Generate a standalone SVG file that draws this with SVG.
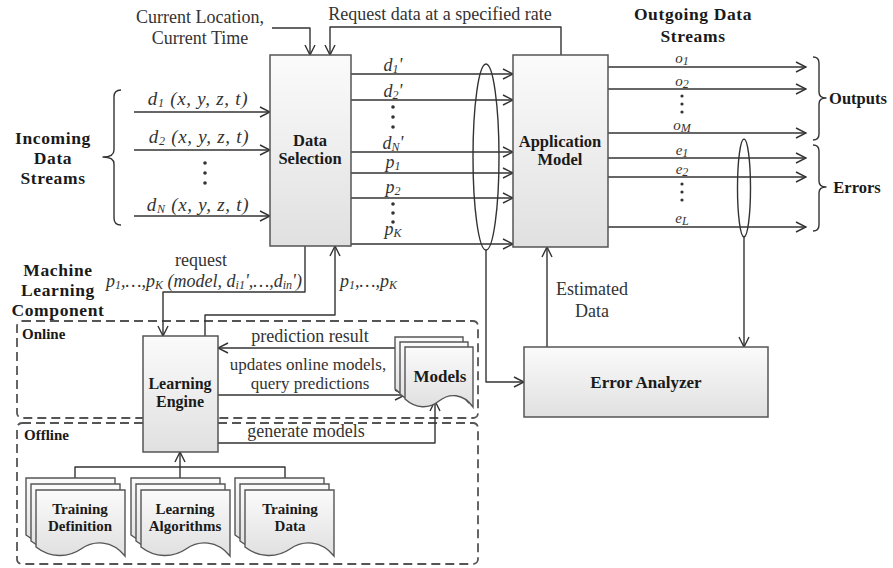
<svg xmlns="http://www.w3.org/2000/svg" width="893" height="568" viewBox="0 0 893 568">
<defs>
  <linearGradient id="boxFill" x1="0" y1="0" x2="0" y2="1">
    <stop offset="0" stop-color="#fbfbfb"/>
    <stop offset="1" stop-color="#e0e0e0"/>
  </linearGradient>
  <marker id="arr" viewBox="0 0 12 12" refX="11" refY="6" markerWidth="12" markerHeight="12" markerUnits="userSpaceOnUse" orient="auto">
    <path d="M1,1 L11,6 L1,11" fill="none" stroke="#333" stroke-width="1.4"/>
  </marker>
  <!-- document sheet with wavy bottom edge -->
  <path id="docL" d="M0,0 H89 V66 C76,50 58,50 45,59 C32,68 14,68 0,57 Z"/>
  <path id="docS" d="M0,0 H68 V60 C58,46 44,46 34,54 C24,62 11,62 0,52 Z"/>
</defs>
<style>
  .t{font-family:"Liberation Serif","Times New Roman",serif;font-size:18px;fill:#333}
  .b{font-weight:bold;fill:#1a1a1a}
  .h{font-size:17.5px;letter-spacing:0.6px}
  .i{font-style:italic}
  .s{font-size:12px}
  .m{text-anchor:middle}
  .box{fill:url(#boxFill);stroke:#555;stroke-width:1.5}
  .doc{fill:url(#boxFill);stroke:#555;stroke-width:1.4}
  .ln{fill:none;stroke:#333;stroke-width:1.4;stroke-linejoin:round}
  .ar{marker-end:url(#arr)}
  .dash{fill:none;stroke:#555;stroke-width:1.8;stroke-dasharray:9 5}
  .dot{fill:#333}
</style>

<rect width="893" height="568" fill="#ffffff"/>

<!-- containers for the machine learning component -->
<g id="online-area">
  <rect class="dash" x="17" y="321" width="461" height="97" rx="5"/>
  <text class="t b" x="22" y="339" style="font-size:15px">Online</text>
</g>
<g id="offline-area">
  <rect class="dash" x="17" y="423" width="461" height="141" rx="5"/>
  <text class="t b" x="24" y="440" style="font-size:15px">Offline</text>
</g>

<!-- connectors -->
<g id="connectors">
  <!-- incoming streams -->
  <line class="ln ar" x1="134" y1="112" x2="270" y2="112"/>
  <line class="ln ar" x1="134" y1="150" x2="270" y2="150"/>
  <line class="ln ar" x1="134" y1="216" x2="270" y2="216"/>
  <!-- context and rate requests into data selection -->
  <path class="ln ar" d="M272,28 H310 V55"/>
  <path class="ln ar" d="M561,55 V27 H330 V55"/>
  <!-- selected data into application model -->
  <line class="ln ar" x1="351" y1="74" x2="513" y2="74"/>
  <line class="ln ar" x1="351" y1="100" x2="513" y2="100"/>
  <line class="ln ar" x1="351" y1="152" x2="513" y2="152"/>
  <line class="ln ar" x1="351" y1="173" x2="513" y2="173"/>
  <line class="ln ar" x1="351" y1="198" x2="513" y2="198"/>
  <line class="ln ar" x1="351" y1="244" x2="513" y2="244"/>
  <ellipse class="ln" cx="486" cy="157" rx="13" ry="93"/>
  <path class="ln ar" d="M486,250 V382 H524"/>
  <!-- outgoing streams -->
  <line class="ln ar" x1="608" y1="67" x2="806" y2="67"/>
  <line class="ln ar" x1="608" y1="89" x2="806" y2="89"/>
  <line class="ln ar" x1="608" y1="133" x2="806" y2="133"/>
  <line class="ln ar" x1="608" y1="158" x2="806" y2="158"/>
  <line class="ln ar" x1="608" y1="177" x2="806" y2="177"/>
  <line class="ln ar" x1="608" y1="227" x2="806" y2="227"/>
  <ellipse class="ln" cx="744" cy="188" rx="6.5" ry="49"/>
  <line class="ln ar" x1="744" y1="237" x2="744" y2="347"/>
  <!-- estimated data back to application model -->
  <line class="ln ar" x1="547" y1="347" x2="547" y2="247"/>
  <!-- data selection and learning engine -->
  <path class="ln ar" d="M305,246 V292 H163 V336"/>
  <path class="ln ar" d="M205,336 V315 H335 V246"/>
  <!-- learning engine and models -->
  <line class="ln ar" x1="397" y1="348" x2="218" y2="348"/>
  <line class="ln ar" x1="218" y1="395" x2="405" y2="395"/>
  <path class="ln ar" d="M218,443 H435 V401"/>
  <!-- offline inputs to learning engine -->
  <path class="ln" d="M75,478 V467 H285 V478"/>
  <line class="ln ar" x1="180" y1="478" x2="180" y2="452"/>
  <!-- braces -->
  <path class="ln" d="M121,90 Q114,90 114,97 V150 Q114,157 103,157 Q114,157 114,164 V218 Q114,225 121,225"/>
  <path class="ln" d="M813,57 Q819,57 819,63 V92 Q819,98 826,98 Q819,98 819,104 V134 Q819,140 813,140"/>
  <path class="ln" d="M813,145 Q819,145 819,151 V181 Q819,187 826,187 Q819,187 819,193 V225 Q819,231 813,231"/>
</g>

<!-- nodes -->
<g id="node-data-selection">
  <rect class="box" x="270" y="55" width="81" height="191"/>
  <text class="t b m" x="310" y="146" style="font-size:16.5px">Data</text>
  <text class="t b m" x="310" y="164" style="font-size:16.5px">Selection</text>
</g>
<g id="node-application-model">
  <rect class="box" x="513" y="55" width="95" height="192"/>
  <text class="t b m" x="560" y="147" style="font-size:16.5px">Application</text>
  <text class="t b m" x="560" y="165" style="font-size:16.5px">Model</text>
</g>
<g id="node-error-analyzer">
  <rect class="box" x="524" y="347" width="244" height="70"/>
  <text class="t b m" x="646" y="388" style="font-size:17px">Error Analyzer</text>
</g>
<g id="node-learning-engine">
  <rect class="box" x="143" y="336" width="75" height="116"/>
  <text class="t b m" x="180" y="389" style="font-size:16px">Learning</text>
  <text class="t b m" x="180" y="407" style="font-size:16px">Engine</text>
</g>
<g id="node-models">
  <use href="#docS" class="doc" x="395" y="337"/>
  <use href="#docS" class="doc" x="400" y="342"/>
  <use href="#docS" class="doc" x="405" y="347"/>
  <text class="t b m" x="440" y="382" style="font-size:17px">Models</text>
</g>
<g id="node-training-definition">
  <use href="#docL" class="doc" x="26" y="478"/>
  <use href="#docL" class="doc" x="31" y="484"/>
  <use href="#docL" class="doc" x="36" y="490"/>
  <text class="t b m" x="80" y="514" style="font-size:15px">Training</text>
  <text class="t b m" x="80" y="531" style="font-size:15px">Definition</text>
</g>
<g id="node-learning-algorithms">
  <use href="#docL" class="doc" x="131" y="478"/>
  <use href="#docL" class="doc" x="136" y="484"/>
  <use href="#docL" class="doc" x="141" y="490"/>
  <text class="t b m" x="185" y="514" style="font-size:15px">Learning</text>
  <text class="t b m" x="185" y="531" style="font-size:15px">Algorithms</text>
</g>
<g id="node-training-data">
  <use href="#docL" class="doc" x="235" y="478"/>
  <use href="#docL" class="doc" x="240" y="484"/>
  <use href="#docL" class="doc" x="245" y="490"/>
  <text class="t b m" x="290" y="514" style="font-size:15px">Training</text>
  <text class="t b m" x="290" y="531" style="font-size:15px">Data</text>
</g>

<!-- headings and labels -->
<g id="labels">
  <text class="t m" x="200" y="23">Current Location,</text>
  <text class="t m" x="200" y="44">Current Time</text>
  <text class="t m" x="440" y="20">Request data at a specified rate</text>
  <text class="t b h m" x="693" y="20">Outgoing Data</text>
  <text class="t b h m" x="693" y="42">Streams</text>
  <text class="t b h m" x="53" y="144">Incoming</text>
  <text class="t b h m" x="53" y="164">Data</text>
  <text class="t b h m" x="53" y="184">Streams</text>
  <text class="t b m" x="858" y="104" style="font-size:16.5px">Outputs</text>
  <text class="t b m" x="857" y="193" style="font-size:16.5px">Errors</text>
  <text class="t b h m" x="58" y="276">Machine</text>
  <text class="t b h m" x="58" y="296">Learning</text>
  <text class="t b h m" x="58" y="316">Component</text>

  <!-- incoming stream labels -->
  <text class="t i m" x="198" y="105" style="font-size:19px;letter-spacing:0.7px">d<tspan class="s" dy="2">1</tspan><tspan dy="-2"> (x, y, z, t)</tspan></text>
  <text class="t i m" x="199" y="143" style="font-size:19px;letter-spacing:0.7px">d<tspan class="s" dy="2">2</tspan><tspan dy="-2"> (x, y, z, t)</tspan></text>
  <text class="t i m" x="198" y="211" style="font-size:19px;letter-spacing:0.7px">d<tspan class="s" dy="2">N</tspan><tspan dy="-2"> (x, y, z, t)</tspan></text>
  <circle class="dot" cx="205" cy="163" r="1.8"/>
  <circle class="dot" cx="205" cy="173" r="1.8"/>
  <circle class="dot" cx="205" cy="183" r="1.8"/>

  <!-- selected data labels -->
  <text class="t i m" x="393" y="71">d<tspan class="s" dy="2">1</tspan><tspan dy="-2">'</tspan></text>
  <text class="t i m" x="393" y="97">d<tspan class="s" dy="2">2</tspan><tspan dy="-2">'</tspan></text>
  <circle class="dot" cx="393" cy="107" r="1.8"/>
  <circle class="dot" cx="393" cy="117" r="1.8"/>
  <circle class="dot" cx="393" cy="127" r="1.8"/>
  <text class="t i m" x="393" y="149">d<tspan class="s" dy="2">N</tspan><tspan dy="-2">'</tspan></text>
  <text class="t i m" x="393" y="168">p<tspan class="s" dy="2">1</tspan></text>
  <text class="t i m" x="393" y="193">p<tspan class="s" dy="2">2</tspan></text>
  <circle class="dot" cx="393" cy="204" r="1.8"/>
  <circle class="dot" cx="393" cy="213" r="1.8"/>
  <circle class="dot" cx="393" cy="222" r="1.8"/>
  <text class="t i m" x="393" y="235">p<tspan class="s" dy="2">K</tspan></text>

  <!-- outgoing stream labels -->
  <text class="t i m" x="682" y="63" style="font-size:15px">o<tspan class="s" dy="2">1</tspan></text>
  <text class="t i m" x="682" y="86" style="font-size:15px">o<tspan class="s" dy="2">2</tspan></text>
  <circle class="dot" cx="682" cy="96" r="1.6"/>
  <circle class="dot" cx="682" cy="104" r="1.6"/>
  <circle class="dot" cx="682" cy="112" r="1.6"/>
  <text class="t i m" x="682" y="130" style="font-size:15px">o<tspan class="s" dy="2">M</tspan></text>
  <text class="t i m" x="682" y="155" style="font-size:15px">e<tspan class="s" dy="2">1</tspan></text>
  <text class="t i m" x="682" y="174" style="font-size:15px">e<tspan class="s" dy="2">2</tspan></text>
  <circle class="dot" cx="682" cy="184" r="1.6"/>
  <circle class="dot" cx="682" cy="192" r="1.6"/>
  <circle class="dot" cx="682" cy="200" r="1.6"/>
  <text class="t i m" x="682" y="223" style="font-size:15px">e<tspan class="s" dy="2">L</tspan></text>

  <!-- machine learning labels -->
  <text class="t m" x="201" y="266">request</text>
  <text class="t i m" x="204" y="287">p<tspan class="s" dy="2">1</tspan><tspan dy="-2">,…,p</tspan><tspan class="s" dy="2">K</tspan><tspan dy="-2"> (model, d</tspan><tspan class="s" dy="2">i1</tspan><tspan dy="-2">',…,d</tspan><tspan class="s" dy="2">in</tspan><tspan dy="-2">')</tspan></text>
  <text class="t i" x="340" y="287">p<tspan class="s" dy="2">1</tspan><tspan dy="-2">,…,p</tspan><tspan class="s" dy="2">K</tspan></text>
  <text class="t m" x="310" y="342">prediction result</text>
  <text class="t m" x="308" y="370" style="font-size:17px">updates online models,</text>
  <text class="t m" x="310" y="389" style="font-size:17px">query predictions</text>
  <text class="t m" x="306" y="437">generate models</text>
  <text class="t m" x="592" y="295">Estimated</text>
  <text class="t m" x="592" y="317">Data</text>
</g>
</svg>
